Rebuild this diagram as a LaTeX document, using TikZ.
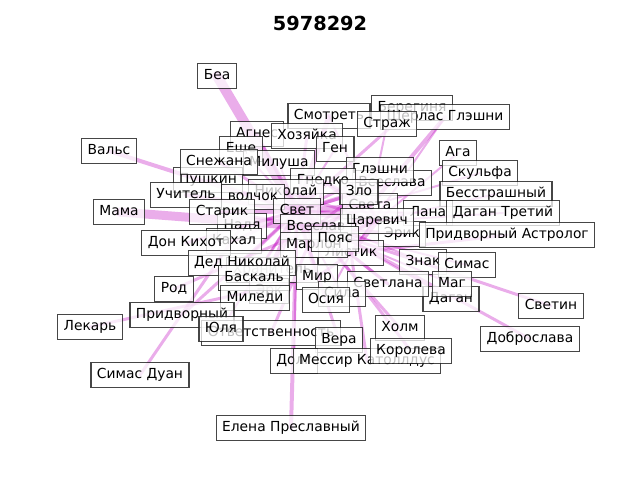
\documentclass[tikz,border=0pt]{standalone}
\usepackage{fontspec}
\setmainfont{DejaVu Sans}
\pgfdeclarelayer{bg}
\pgfsetlayers{bg,main}
\definecolor{edgec}{RGB}{190,0,190}
\tikzset{
  lbl/.style={rectangle, draw=black!85, fill=white, fill opacity=0.75, draw opacity=0.85, text opacity=1,
    inner xsep=4.3pt, inner ysep=3.9pt, text height=7.5pt, text depth=2.3pt, line width=0.8pt,
    font=\fontsize{10}{12}\selectfont},
  edge/.style={draw=edgec, draw opacity=0.32, line cap=round}
}
\begin{document}
\begin{tikzpicture}[x=0.0254cm,y=-0.0254cm]
\useasboundingbox (0,0) rectangle (640,480);
\node[font=\fontsize{14}{16}\selectfont\bfseries] (title) at (320,23) {5978292};
% nodes (later ones on top)
\node[lbl] (bea) at (217,76) {Беа};
\node[lbl] (vals) at (109,151) {Вальс};
\node[lbl] (mama) at (119,212) {Мама};
\node[lbl] (smotr) at (329,116) {Смотреть};
\node[lbl] (bereg) at (412,108) {Берегиня};
\node[lbl] (sherl) at (445,117) {Шерлас Глэшни};
\node[lbl] (strazh) at (387,124) {Страж};
\node[lbl] (agnes) at (257,134) {Агнес};
\node[lbl] (hoz) at (307,136) {Хозяйка};
\node[lbl] (gen) at (335,149) {Ген};
\node[lbl] (esche) at (241,149) {Еще};
\node[lbl] (milu) at (279,163) {Милуша};
\node[lbl] (pushk) at (208,180) {Пушкин};
\node[lbl] (snezh) at (219,162) {Снежана};
\node[lbl] (aga) at (458,153) {Ага};
\node[lbl] (skulf) at (480,173) {Скульфа};
\node[lbl] (vseslava) at (392,183) {Всеслава};
\node[lbl] (gleshni) at (380,170) {Глэшни};
\node[lbl] (gnedko) at (323,181) {Гнедко};
\node[lbl] (nikol) at (286,192) {Николай};
\node[lbl] (uchit) at (186,195) {Учитель};
\node[lbl] (volch) at (253,197) {волчок};
\node[lbl] (sveta) at (370,206) {Света};
\node[lbl] (zlo) at (359,192) {Зло};
\node[lbl] (besstr) at (496,194) {Бесстрашный};
\node[lbl] (lana) at (428,213) {Лана};
\node[lbl] (dagan3) at (503,213) {Даган Третий};
\node[lbl] (nadya) at (242,226) {Надя};
\node[lbl] (starik) at (222,212) {Старик};
\node[lbl] (svet) at (297,211) {Свет};
\node[lbl] (vseslav) at (316,227) {Всеслав};
\node[lbl] (erik) at (402,234) {Эрик};
\node[lbl] (tsar) at (377,221) {Царевич};
\node[lbl] (astrol) at (507,235) {Придворный Астролог};
\node[lbl] (kahal) at (234,241) {Кахал};
\node[lbl] (donk) at (186,243) {Дон Кихот};
\node[lbl] (listik) at (351,253) {Листик};
\node[lbl] (marlon) at (314,245) {Марлон};
\node[lbl] (poyas) at (335,239) {Пояс};
\node[lbl] (hran) at (272,270) {Хранитель};
\node[lbl] (dedn) at (242,263) {Дед Николай};
\node[lbl] (znak) at (423,262) {Знак};
\node[lbl] (simas) at (467,265) {Симас};
\node[lbl] (erk) at (269,291) {Эрк};
\node[lbl] (baskal) at (254,278) {Баскаль};
\node[lbl] (mir) at (317,277) {Мир};
\node[lbl] (dagan) at (451,299) {Даган};
\node[lbl] (svetlana) at (388,284) {Светлана};
\node[lbl] (mag) at (452,284) {Маг};
\node[lbl] (miledi) at (255,298) {Миледи};
\node[lbl] (rod) at (174,289) {Род};
\node[lbl] (sila) at (342,294) {Сила};
\node[lbl] (osiya) at (326,300) {Осия};
\node[lbl] (pridv) at (182,315) {Придворный};
\node[lbl] (lekar) at (90,327) {Лекарь};
\node[lbl] (otvet) at (271,333) {Ответственность};
\node[lbl] (yulya) at (221,329) {Юля};
\node[lbl] (vera) at (339,340) {Вера};
\node[lbl] (holm) at (400,328) {Холм};
\node[lbl] (svetin) at (551,306) {Светин};
\node[lbl] (dobro) at (530,339) {Доброслава};
\node[lbl] (dol) at (294,361) {Долг};
\node[lbl] (messir) at (367,361) {Мессир Католлдус};
\node[lbl] (koroleva) at (411,351) {Королева};
\node[lbl] (simasd) at (140,375) {Симас Дуан};
\node[lbl] (elena) at (291,428) {Елена Преславный};
% edges
\begin{pgfonlayer}{bg}
\foreach \a/\b/\w in {
  bea/svet/10, mama/vseslav/9, vals/svet/4, smotr/svet/5, smotr/tsar/2,
  sherl/sveta/4, sherl/listik/2, bereg/svet/3, strazh/sveta/2, agnes/svet/3,
  hoz/svet/3, gen/svet/2, esche/svet/2, snezh/svet/3, milu/svet/2,
  aga/tsar/2, skulf/sveta/2, gleshni/svet/3, gnedko/svet/4, vseslava/svet/3,
  pushk/svet/3, uchit/svet/4, nikol/svet/4, volch/svet/3, zlo/svet/4,
  sveta/svet/6, besstr/tsar/2, starik/svet/5, lana/svet/2, dagan3/tsar/2,
  tsar/svet/6, tsar/vseslav/4, nadya/svet/3, vseslav/svet/8, erik/vseslav/3,
  astrol/listik/3, donk/svet/3, kahal/svet/3, marlon/svet/4, poyas/svet/4,
  listik/svet/5, listik/vseslav/4, dedn/svet/3, simas/vseslav/2, znak/svet/2,
  hran/svet/2, baskal/svet/3, mir/svet/4, svetlana/svet/3, svetlana/vseslav/3,
  mag/vseslav/2, dagan/svet/2, erk/svet/2, miledi/svet/3, rod/vseslav/3,
  osiya/svet/3, sila/svet/2, pridv/svet/3, lekar/mir/3, yulya/svet/2,
  otvet/vseslav/3, vera/svet/3, holm/svet/3, koroleva/vseslav/3, svetin/vseslav/3,
  dobro/svet/3, dol/svet/2, messir/listik/3, simasd/nadya/3, elena/svet/4,
  tsar/listik/5, sveta/tsar/4, zlo/tsar/3, poyas/tsar/4, marlon/listik/3,
  mir/listik/3, osiya/listik/2, gnedko/tsar/3, nikol/vseslav/3, starik/vseslav/3,
  gnedko/sveta/3, nikol/tsar/3, vseslav/zlo/3, marlon/tsar/3, poyas/listik/4,
  vseslav/sveta/4, svet/poyas/3, nikol/listik/2, gnedko/vseslav/3, marlon/zlo/2}
  \draw[edge, line width=\w*0.72pt] (\a.center) -- (\b.center);
\end{pgfonlayer}
\end{tikzpicture}
\end{document}
